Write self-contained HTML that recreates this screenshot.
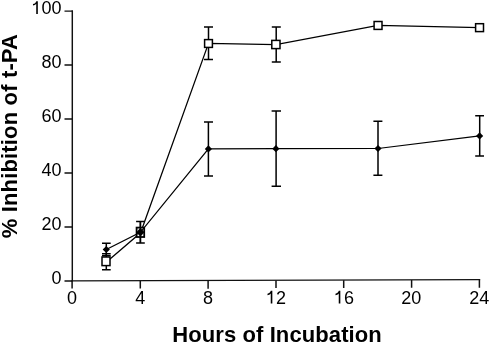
<!DOCTYPE html>
<html><head><meta charset="utf-8">
<style>
html,body{margin:0;padding:0;background:#fff;}
body{width:489px;height:343px;overflow:hidden;}
svg{display:block;will-change:transform;}
text{font-family:"Liberation Sans",sans-serif;fill:#000;}
.t text{font-size:18px;}
.b{font-size:22px;font-weight:bold;}
</style></head>
<body>
<svg width="489" height="343" viewBox="0 0 489 343">
<g stroke="#111" stroke-width="1.6" fill="none" stroke-linecap="butt">
  <path d="M72.3 10.3 V281.6" stroke-width="1.45"/>
  <path d="M71.3 280.9 L480.2 279.6" stroke-width="1.4"/>
  <path d="M64.5 11.1 H72.1 M64.5 65 H72.1 M64.5 119 H72.1 M64.5 173 H72.1 M64.5 227 H72.1 M64.5 281 H72.1" stroke-width="1.4"/>
  <path d="M72.1 281 V288.6 M140.3 280.8 V288.4 M208.1 280.6 V288.7 M276 280.4 V288 M343.7 280.2 V287.9 M411.6 279.9 V287.7 M479.4 279.6 V287.7" stroke-width="1.5"/>
</g>
<g class="t" fill="#000">
<path transform="translate(31.48,14)" d="M6.35 0 H4.75 V-10.2 C3.9 -9.2 2.7 -8.6 1.5 -8.4 V-9.9 C3.1 -10.2 4.3 -11.4 4.85 -12.85 H6.35 Z"/>
<text x="41.48" y="14">0</text>
<text x="51.49" y="14">0</text>
<text x="41.48" y="68">8</text>
<text x="51.49" y="68">0</text>
<text x="41.48" y="122">6</text>
<text x="51.49" y="122">0</text>
<text x="41.48" y="176">4</text>
<text x="51.49" y="176">0</text>
<text x="41.48" y="230">2</text>
<text x="51.49" y="230">0</text>
<text x="51.49" y="284">0</text>
<text x="67.00" y="303.6">0</text>
<text x="135.30" y="303.6">4</text>
<text x="203.00" y="303.6">8</text>
<path transform="translate(265.99,303.6)" d="M6.35 0 H4.75 V-10.2 C3.9 -9.2 2.7 -8.6 1.5 -8.4 V-9.9 C3.1 -10.2 4.3 -11.4 4.85 -12.85 H6.35 Z"/>
<text x="276.00" y="303.6">2</text>
<path transform="translate(333.99,303.6)" d="M6.35 0 H4.75 V-10.2 C3.9 -9.2 2.7 -8.6 1.5 -8.4 V-9.9 C3.1 -10.2 4.3 -11.4 4.85 -12.85 H6.35 Z"/>
<text x="344.00" y="303.6">6</text>
<text x="401.19" y="303.6">2</text>
<text x="411.20" y="303.6">0</text>
<text x="469.29" y="303.6">2</text>
<text x="479.30" y="303.6">4</text>
</g>
<text class="b" x="172.2" y="341.8" letter-spacing="0.1">Hours of Incubation</text>
<text class="b" transform="translate(17,238.3) rotate(-90)" x="0" y="0" letter-spacing="0.16">% Inhibition of t-PA</text>

<g stroke="#000" stroke-width="1.5" fill="none">
  <polyline stroke-width="1.25" points="106.5,262 140.6,232.8 208.5,43.4 275.9,44.5 378,25.4 479.6,27.7"/>
  <path d="M106.3 253.8 V269.8 M102 253.8 H110.7 M102 269.8 H110.7"/>
  <path d="M140.4 221.4 V243.1 M136.1 221.4 H144.8 M136.1 243.1 H144.8"/>
  <path d="M208.5 27.1 V59.4 M204 27.1 H213 M204 59.4 H213"/>
  <path d="M276.2 26.9 V62 M271.8 26.9 H280.8 M271.8 62 H280.8"/>
</g>
<g stroke="#000" stroke-width="1.5" fill="#fff">
  <rect x="102" y="257" width="8" height="8.6"/>
  <rect x="136.6" y="227.6" width="7.6" height="9.4" stroke-width="1.8"/>
  <rect x="204.6" y="39.6" width="7.8" height="7.8"/>
  <rect x="271.8" y="40.4" width="8.2" height="8.2"/>
  <rect x="374.1" y="21.5" width="7.9" height="7.9"/>
  <rect x="475.6" y="23.7" width="7.9" height="7.9"/>
</g>
<g stroke="#000" stroke-width="1.5" fill="none">
  <polyline stroke-width="1.25" points="106.3,249.5 140.4,232.3 208.4,148.9 275.9,148.7 378,148.5 479.6,135.9"/>
  <path d="M106.3 243.2 V255.8 M102 243.2 H110.7 M102 255.8 H110.7"/>
  <path d="M140.4 221.4 V243.1"/>
  <path d="M208.4 122 V175.9 M204 122 H213 M204 175.9 H213"/>
  <path d="M276.1 111 V186.3 M271.6 111 H281 M271.6 186.3 H281"/>
  <path d="M378 121.3 V175.3 M373.4 121.3 H382.4 M373.4 175.3 H382.4"/>
  <path d="M479.7 115.7 V155.9 M475.2 115.7 H484 M475.2 155.9 H484"/>
</g>
<g fill="#000">
  <path d="M106.3 245.9 L109.9 249.5 L106.3 253.1 L102.7 249.5Z"/>
  <path d="M140.4 227.8 L144.4 232.3 L140.4 236.8 L136.4 232.3Z"/>
  <path d="M208.4 145.3 L212 148.9 L208.4 152.5 L204.8 148.9Z"/>
  <path d="M275.9 145.1 L279.5 148.7 L275.9 152.3 L272.3 148.7Z"/>
  <path d="M378 144.9 L381.6 148.5 L378 152.1 L374.4 148.5Z"/>
  <path d="M479.6 132.3 L483.2 135.9 L479.6 139.5 L476 135.9Z"/>
</g>
</svg>
</body></html>
